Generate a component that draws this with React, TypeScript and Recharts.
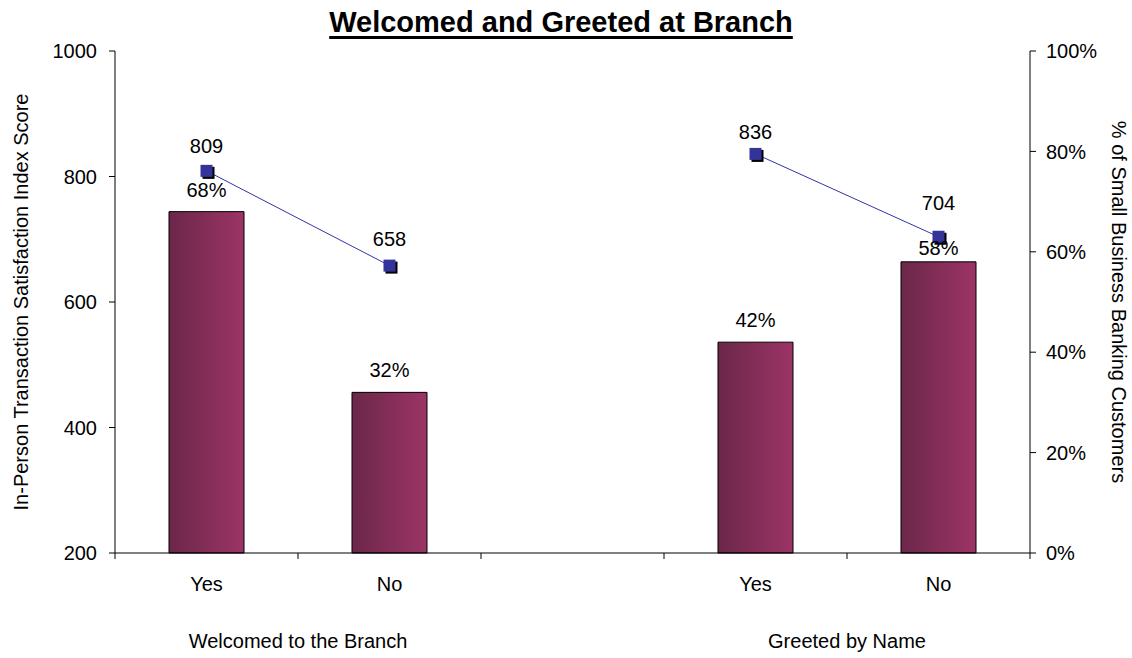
import React from "react";
import { ComposedChart, Bar, Line, XAxis, YAxis, LabelList } from "recharts";

const categories = ["Yes", "No", "", "Yes", "No"];
const groupTitles = ["Welcomed to the Branch", "", "", "Greeted by Name", ""];
const customerShare = [68, 32, null, 42, 58];
const satisfactionScore = [809, 658, null, 836, 704];
const scoreTicks = [200, 400, 600, 800, 1000];
const shareTicks = [0, 20, 40, 60, 80, 100];

// label gaps above each mark (px), as placed in the original
const shareLabelGap = [15, 15, 15, 15, 7];
const scoreLabelGap = [18, 20, 18, 15, 27];

const data = categories.map((name, i) => ({
  id: i,
  name,
  share: customerShare[i],
  score: satisfactionScore[i],
}));

const W = 1132;
const H = 658;
const PLOT_LEFT = 115;
const PLOT_RIGHT = 1030;
const BAND = (PLOT_RIGHT - PLOT_LEFT) / categories.length;
const FONT = "'Liberation Sans', Arial, sans-serif";

function CategoryTick(props: any) {
  const { x, y, payload } = props;
  const i = payload.value as number;
  return (
    <g>
      <line x1={x - BAND / 2} x2={x - BAND / 2} y1={y} y2={y + 6} stroke="#000" />
      {i === categories.length - 1 && (
        <line x1={x + BAND / 2} x2={x + BAND / 2} y1={y} y2={y + 6} stroke="#000" />
      )}
      <text x={x} y={y + 38} textAnchor="middle" fontSize={20} fontFamily={FONT} fill="#000">
        {categories[i]}
      </text>
      {groupTitles[i] && (
        <text x={x + BAND / 2} y={y + 95} textAnchor="middle" fontSize={20} fontFamily={FONT} fill="#000">
          {groupTitles[i]}
        </text>
      )}
    </g>
  );
}

function SquareDot(props: any) {
  const { cx, cy, payload } = props;
  if (cx == null || cy == null || payload?.score == null) return null;
  return (
    <g>
      <rect x={cx - 4} y={cy - 4} width={12} height={12} fill="#000" />
      <rect x={cx - 6} y={cy - 6} width={12} height={12} fill="#333399" />
    </g>
  );
}

function ShareLabel(props: any) {
  const { x, y, width, value } = props;
  if (value == null || x == null) return null;
  const i = customerShare.indexOf(value);
  return (
    <text
      x={x + width / 2}
      y={y - (shareLabelGap[i] ?? 15)}
      textAnchor="middle"
      fontSize={20}
      fontFamily={FONT}
      fill="#000"
    >
      {`${value}%`}
    </text>
  );
}

function ScoreLabel(props: any) {
  const { x, y, value } = props;
  if (value == null || x == null) return null;
  const i = satisfactionScore.indexOf(value);
  return (
    <text
      x={x}
      y={y - (scoreLabelGap[i] ?? 18)}
      textAnchor="middle"
      fontSize={20}
      fontFamily={FONT}
      fill="#000"
    >
      {value}
    </text>
  );
}

export default function App() {
  return (
    <div style={{ position: "absolute", left: 0, top: 0, width: W, height: H, background: "#fff" }}>
      <ComposedChart width={W} height={H} data={data} margin={{ top: 51, right: 0, bottom: 0, left: 0 }}>
        <defs>
          <linearGradient id="barGrad" x1="0" y1="0" x2="1" y2="0">
            <stop offset="0%" stopColor="#6b2749" />
            <stop offset="100%" stopColor="#9c3466" />
          </linearGradient>
        </defs>
        <XAxis
          dataKey="id"
          height={105}
          axisLine={{ stroke: "#000" }}
          tickLine={false}
          tickSize={0}
          tickMargin={0}
          interval={0}
          tick={<CategoryTick />}
        />
        <YAxis
          yAxisId="score"
          orientation="left"
          width={115}
          domain={[200, 1000]}
          ticks={scoreTicks}
          axisLine={{ stroke: "#000" }}
          tickLine={{ stroke: "#000" }}
          tickSize={6}
          tickMargin={12}
          tick={{ fill: "#000", fontSize: 20, fontFamily: FONT }}
        />
        <YAxis
          yAxisId="share"
          orientation="right"
          width={102}
          domain={[0, 100]}
          ticks={shareTicks}
          tickFormatter={(v: number) => `${v}%`}
          axisLine={{ stroke: "#000" }}
          tickLine={{ stroke: "#000" }}
          tickSize={6}
          tickMargin={10}
          tick={{ fill: "#000", fontSize: 20, fontFamily: FONT }}
        />
        <Bar
          yAxisId="share"
          dataKey="share"
          barSize={75}
          fill="url(#barGrad)"
          stroke="#000"
          strokeWidth={1}
          isAnimationActive={false}
        >
          <LabelList dataKey="share" content={<ShareLabel />} />
        </Bar>
        <Line
          yAxisId="score"
          dataKey="score"
          stroke="#3333aa"
          strokeWidth={1}
          connectNulls={false}
          dot={<SquareDot />}
          activeDot={false}
          isAnimationActive={false}
        >
          <LabelList dataKey="score" content={<ScoreLabel />} />
        </Line>
      </ComposedChart>
      <div
        style={{
          position: "absolute",
          left: 561,
          top: 8,
          transform: "translateX(-50%)",
          whiteSpace: "nowrap",
          fontFamily: FONT,
          fontSize: 29,
          lineHeight: "29px",
          fontWeight: "bold",
          color: "#000",
          textDecoration: "underline",
          textDecorationThickness: "3px",
          textUnderlineOffset: "4px",
        }}
      >
        Welcomed and Greeted at Branch
      </div>
      <svg
        width={W}
        height={H}
        style={{ position: "absolute", left: 0, top: 0, pointerEvents: "none" }}
      >
        <text
          x={28}
          y={302}
          transform="rotate(-90 28 302)"
          textAnchor="middle"
          fontSize={20}
          fontFamily={FONT}
          fill="#000"
        >
          In-Person Transaction Satisfaction Index Score
        </text>
        <text
          x={1112}
          y={302}
          transform="rotate(90 1112 302)"
          textAnchor="middle"
          fontSize={20}
          fontFamily={FONT}
          fill="#000"
        >
          % of Small Business Banking Customers
        </text>
      </svg>
    </div>
  );
}
